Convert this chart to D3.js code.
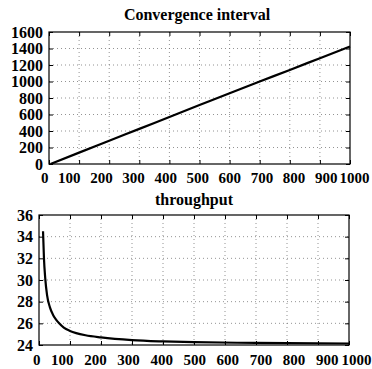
<!DOCTYPE html>
<html>
<head>
<meta charset="utf-8">
<script src="https://cdn.jsdelivr.net/npm/d3@7"></script>
<style>
  body { margin: 0; background: #fff; }
</style>
</head>
<body>
<div id="chart"></div>
<script>
// data
const xTicks = [0, 100, 200, 300, 400, 500, 600, 700, 800, 900, 1000];

const convX = [5, 100, 200, 300, 400, 500, 600, 700, 800, 900, 1000];
const convY = [0, 138, 282, 426, 570, 714, 858, 1000, 1140, 1283, 1425];
const convYTicks = [0, 200, 400, 600, 800, 1000, 1200, 1400, 1600];

const thrX = [13, 16, 20, 26, 35, 45, 55, 65, 80, 100, 120, 150, 200, 300, 400, 500, 700, 1000];
const thrY = [34.5, 32.0, 30.2, 28.6, 27.5, 26.8, 26.35, 26.0, 25.6, 25.3, 25.1, 24.9, 24.7, 24.45, 24.33, 24.26, 24.19, 24.14];
const thrYTicks = [24, 26, 28, 30, 32, 34, 36];

const fontSize = 15;
const serif = '"Liberation Serif", "Times New Roman", serif';

const svg = d3.select("#chart")
    .append("svg")
    .attr("width", 372)
    .attr("height", 369);

function drawPanel(p) {
    const x = d3.scaleLinear().domain([0, 1000]).range([p.left, p.right]);
    const y = d3.scaleLinear().domain(p.yDomain).range([p.bottom, p.top]);
    // tick labels in the scan sit on their own, wider spacing
    const xLab = d3.scaleLinear().domain([0, 1000]).range(p.labRange);

    const g = svg.append("g");

    // grid
    g.append("g")
        .selectAll("line")
        .data(xTicks.slice(1, -1))
        .enter().append("line")
        .attr("x1", d => x(d)).attr("x2", d => x(d))
        .attr("y1", p.top).attr("y2", p.bottom)
        .attr("stroke", "#777").attr("stroke-width", 0.8)
        .attr("stroke-dasharray", "1,3");
    g.append("g")
        .selectAll("line")
        .data(p.yTicks.slice(1, -1))
        .enter().append("line")
        .attr("x1", p.left).attr("x2", p.right)
        .attr("y1", d => y(d)).attr("y2", d => y(d))
        .attr("stroke", "#777").attr("stroke-width", 0.8)
        .attr("stroke-dasharray", "1,3");

    // inward ticks on all four sides
    const tick = 4;
    g.append("g").attr("transform", `translate(0,${p.bottom})`)
        .call(d3.axisTop(x).tickValues(xTicks).tickSize(tick).tickFormat(""));
    g.append("g").attr("transform", `translate(0,${p.top})`)
        .call(d3.axisBottom(x).tickValues(xTicks).tickSize(tick).tickFormat(""));
    g.append("g").attr("transform", `translate(${p.left},0)`)
        .call(d3.axisRight(y).tickValues(p.yTicks).tickSize(tick).tickFormat(""));
    g.append("g").attr("transform", `translate(${p.right},0)`)
        .call(d3.axisLeft(y).tickValues(p.yTicks).tickSize(tick).tickFormat(""));
    g.selectAll(".domain").remove();
    g.selectAll(".tick line").attr("stroke", "#000");

    // box
    g.append("rect")
        .attr("x", p.left).attr("y", p.top)
        .attr("width", p.right - p.left).attr("height", p.bottom - p.top)
        .attr("fill", "none").attr("stroke", "#000").attr("stroke-width", 1.2);

    // y labels
    const yAx = g.append("g").attr("transform", `translate(${p.left},0)`)
        .call(d3.axisLeft(y).tickValues(p.yTicks).tickSize(0).tickPadding(6).tickFormat(d3.format("d")));
    yAx.select(".domain").remove();
    yAx.selectAll("text").style("font-family", serif).style("font-size", "16px")
        .style("font-weight", "bold").attr("fill", "#000");

    // x labels
    const xAx = g.append("g").attr("transform", `translate(0,${p.bottom})`)
        .call(d3.axisBottom(xLab).tickValues(xTicks).tickSize(0).tickPadding(p.labPad).tickFormat(d3.format("d")));
    xAx.select(".domain").remove();
    xAx.selectAll("text").style("font-family", serif).style("font-size", fontSize + "px")
        .style("font-weight", "bold").attr("fill", "#000")
        .attr("text-anchor", "end");

    // title
    g.append("text")
        .attr("x", p.titleX).attr("y", p.titleY)
        .attr("text-anchor", "middle")
        .style("font-family", serif).style("font-size", "16px").style("font-weight", "bold")
        .text(p.title);

    // curve
    const line = d3.line().x(d => x(d[0])).y(d => y(d[1])).curve(d3.curveMonotoneX);
    g.append("path")
        .datum(p.xs.map((v, i) => [v, p.ys[i]]))
        .attr("d", line)
        .attr("fill", "none").attr("stroke", "#000").attr("stroke-width", 2.2);
}

drawPanel({
    title: "Convergence interval", titleX: 197, titleY: 20,
    left: 49, right: 350, top: 32, bottom: 164,
    yDomain: [0, 1600], yTicks: convYTicks,
    labRange: [48, 369], labPad: 8,
    xs: convX, ys: convY
});

drawPanel({
    title: "throughput", titleX: 194, titleY: 205,
    left: 39, right: 349, top: 215, bottom: 345,
    yDomain: [24, 36], yTicks: thrYTicks,
    labRange: [40, 371], labPad: 9,
    xs: thrX, ys: thrY
});
</script>
</body>
</html>
